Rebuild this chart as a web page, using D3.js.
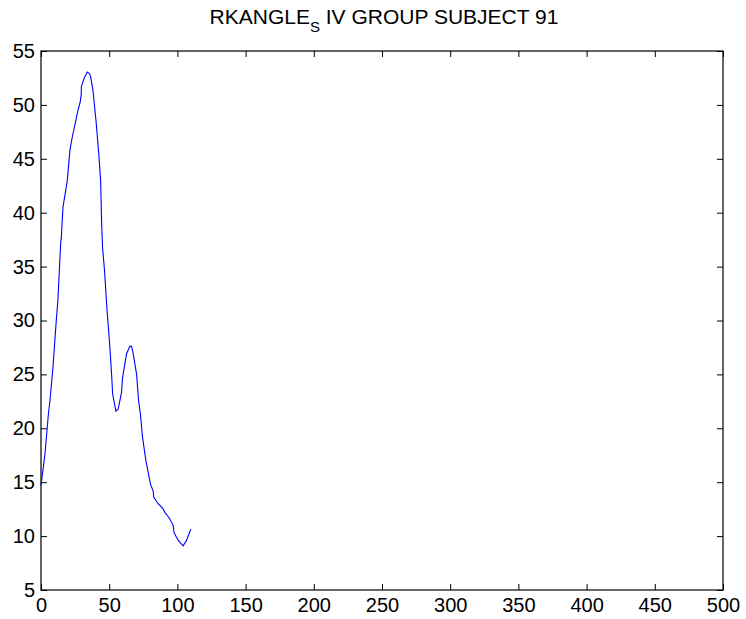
<!DOCTYPE html>
<html>
<head>
<meta charset="utf-8">
<script src="https://cdn.jsdelivr.net/npm/d3@7"></script>
<style>
  html, body { margin: 0; padding: 0; background: #fff; }
  svg { display: block; }
  text { font-family: "Liberation Sans", Arial, Helvetica, sans-serif; fill: #000; }
</style>
</head>
<body>
<svg id="chart" width="746" height="619"></svg>
<script>
const frames = [0, 2.9, 5.4, 6.6, 8.8, 11.2, 12.4, 14.4, 14.9, 16.1, 19.3, 21.2, 22.9, 27.1, 28.8, 29.5, 29.6, 32.0, 33.9, 35.6, 36.4, 38.1, 40.5, 42.5, 43.7, 44.4, 45.1, 46.6, 48.1, 50.5, 51.9, 52.5, 54.9, 56.6, 59.0, 59.8, 62.7, 65.1, 66.4, 67.6, 70.1, 71.5, 73.0, 74.4, 76.9, 80.3, 82.2, 82.7, 85.9, 89.1, 90.8, 93.9, 96.9, 97.6, 100.6, 104.2, 106.7, 109.8];
const angle = [14.7, 17.6, 21.3, 22.6, 25.7, 30.0, 31.9, 37.1, 37.7, 40.5, 43.0, 45.8, 47.0, 49.5, 50.3, 51.0, 51.7, 52.6, 53.05, 52.9, 52.6, 51.35, 48.3, 45.2, 43.0, 39.3, 36.8, 34.6, 31.5, 27.5, 24.7, 23.2, 21.6, 21.8, 23.3, 24.7, 26.9, 27.6, 27.6, 26.9, 25.0, 22.6, 21.2, 19.2, 17.0, 14.8, 14.2, 13.6, 13.0, 12.6, 12.2, 11.7, 11.0, 10.3, 9.6, 9.1, 9.6, 10.65];
const xTicks = [0, 50, 100, 150, 200, 250, 300, 350, 400, 450, 500];
const yTicks = [5, 10, 15, 20, 25, 30, 35, 40, 45, 50, 55];
const titleMain = "RKANGLE";
const titleSub = "S";
const titleRest = " IV GROUP SUBJECT 91";

const svg = d3.select("#chart");
const L = 41, T = 51, R = 723, B = 590;
const x = d3.scaleLinear().domain([0, 500]).range([L, R]);
const y = d3.scaleLinear().domain([5, 55]).range([B, T]);
const tl = 6;
const fs = 20;

// bottom axis
const gx = svg.append("g").attr("transform", `translate(0,${B})`)
  .call(d3.axisBottom(x).tickValues(xTicks).tickSizeInner(-tl).tickSizeOuter(0).tickPadding(8));
// top axis (ticks only)
const gxt = svg.append("g").attr("transform", `translate(0,${T})`)
  .call(d3.axisTop(x).tickValues(xTicks).tickSizeInner(-tl).tickSizeOuter(0).tickFormat(""));
// left axis
const gy = svg.append("g").attr("transform", `translate(${L},0)`)
  .call(d3.axisLeft(y).tickValues(yTicks).tickSizeInner(-tl).tickSizeOuter(0).tickPadding(6));
// right axis (ticks only)
const gyr = svg.append("g").attr("transform", `translate(${R},0)`)
  .call(d3.axisRight(y).tickValues(yTicks).tickSizeInner(-tl).tickSizeOuter(0).tickFormat(""));

[gx, gxt, gy, gyr].forEach(g => {
  g.select(".domain").remove();
  g.selectAll("line").attr("stroke", "#000").attr("stroke-width", 1);
  g.selectAll("text").style("font-size", fs + "px").style("font-family", '"Liberation Sans", Arial, sans-serif').attr("fill", "#000");
});
gx.selectAll("text").attr("dy", "0.71em");

// box
svg.append("rect").attr("x", L).attr("y", T).attr("width", R - L).attr("height", B - T)
  .attr("fill", "none").attr("stroke", "#000").attr("stroke-width", 1.2);

// line
const pts = frames.map((f, i) => [f, angle[i]]);
svg.append("path").datum(pts)
  .attr("fill", "none").attr("stroke", "#0000ff").attr("stroke-width", 1.1)
  .attr("d", d3.line().x(d => x(d[0])).y(d => y(d[1])));

// title
const t = svg.append("text").attr("x", (L + R) / 2 + 2).attr("y", 24)
  .attr("text-anchor", "middle").style("font-size", "21px");
t.append("tspan").text(titleMain);
t.append("tspan").attr("dy", 8).style("font-size", "15px").text(titleSub);
t.append("tspan").attr("dy", -8).text(titleRest);
</script>
</body>
</html>
